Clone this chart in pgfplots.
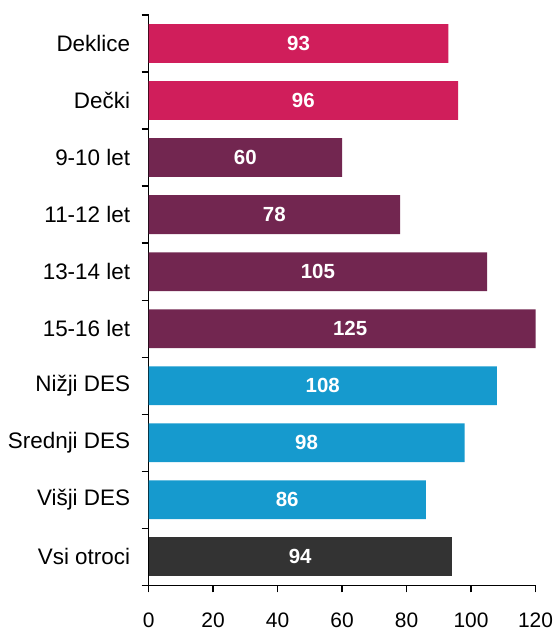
\documentclass[border=0pt]{standalone}
\usepackage{pgfplots}
\usepackage{pgfplotstable}
\pgfplotsset{compat=1.18}
\usepackage{fontspec}
\setmainfont{Liberation Sans}
\definecolor{cpink}{HTML}{D01E5B}
\definecolor{cpurple}{HTML}{722650}
\definecolor{cblue}{HTML}{169ACE}
\definecolor{cdark}{HTML}{333333}
\pgfplotstableread{
y v
0 93
1 96
2 60
3 78
4 105
5 125
6 108
7 98
8 86
9 94
}\alldata
\begin{document}
\begin{tikzpicture}
\begin{axis}[
  name=ax,
  scale only axis,
  width=388pt, height=572pt,
  xmin=0, xmax=120,
  ymin=-0.5, ymax=9.5,
  y dir=reverse,
  axis x line=bottom, axis y line=left,
  axis line style={-, line width=1.3pt, black},
  xtick={0,20,...,120},
  ytick={0,...,9},
  yticklabels={Deklice,Dečki,9-10 let,11-12 let,13-14 let,15-16 let,Nižji DES,Srednji DES,Višji DES,Vsi otroci},
  minor ytick={-0.5,0.5,...,9.5},
  tick align=outside,
  major tick length=7pt, minor tick length=7pt,
  y tick style={draw=none},
  minor y tick style={draw=black, line width=1.3pt},
  x tick style={black, line width=1.3pt},
  tick label style={font=\fontsize{22.5}{25}\selectfont},
  x tick label style={font=\fontsize{21}{24}\selectfont, yshift=-17pt},
  /pgf/number format/assume math mode=true,
  y tick label style={xshift=-8pt},
  clip=true,
]
\addplot[xbar, bar width=0.68, bar shift=0pt, fill=cpink, draw=none] coordinates {(93,0) (96,1)};
\addplot[xbar, bar width=0.68, bar shift=0pt, fill=cpurple, draw=none] coordinates {(60,2) (78,3) (105,4) (125,5)};
\addplot[xbar, bar width=0.68, bar shift=0pt, fill=cblue, draw=none] coordinates {(108,6) (98,7) (86,8)};
\addplot[xbar, bar width=0.68, bar shift=0pt, fill=cdark, draw=none] coordinates {(94,9)};
\addplot[draw=none, mark=none, nodes near coords, point meta=\thisrow{v},
  nodes near coords style={anchor=center, text=white, font=\fontsize{20.5}{22}\selectfont\bfseries}]
  table[x expr=\thisrow{v}/2, y=y] {\alldata};
\end{axis}
\path ([xshift=-149pt,yshift=-44pt]ax.south west) rectangle ([xshift=20pt,yshift=15pt]ax.north east);
\end{tikzpicture}
\end{document}
